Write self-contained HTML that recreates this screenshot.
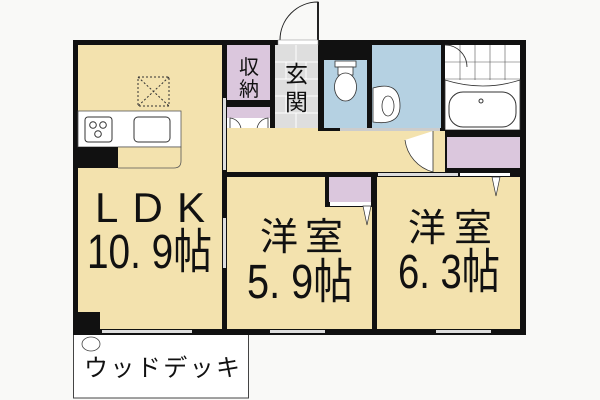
<!DOCTYPE html>
<html><head><meta charset="utf-8"><style>
html,body{margin:0;padding:0;background:#f9f9f7;}
svg{display:block;}
text{font-family:"Liberation Sans","Noto Sans CJK JP",sans-serif;fill:#111;}
</style></head><body>
<svg width="600" height="400" viewBox="0 0 600 400" xmlns="http://www.w3.org/2000/svg">
<rect width="600" height="400" fill="#f9f9f7"/>
<rect x="73.5" y="330" width="175" height="68" fill="#fff" stroke="#444" stroke-width="1"/>
<rect x="73" y="40" width="453" height="295" fill="#111"/>
<path d="M318 40 L318 2 A38 38 0 0 0 280 40" fill="none" stroke="#222" stroke-width="1"/>
<rect x="317" y="2" width="2" height="38" fill="#222"/>
<rect x="278" y="40" width="40" height="5" fill="#fff" stroke="#888" stroke-width=".5"/>
<rect x="78" y="45" width="144" height="284" fill="#f3e2ae"/>
<rect x="138" y="77" width="31" height="29" fill="none" stroke="#333" stroke-dasharray="2 2"/>
<path d="M138 77 L169 106 M169 77 L138 106" stroke="#333" stroke-dasharray="2 2"/>
<rect x="78" y="111" width="103" height="36" fill="#fff" stroke="#555" stroke-width=".8"/>
<rect x="85" y="117" width="27" height="25" rx="3" fill="#fff" stroke="#333"/>
<circle cx="93" cy="125" r="3.3" fill="none" stroke="#333"/><circle cx="103" cy="125" r="3.3" fill="none" stroke="#333"/><circle cx="98" cy="134" r="3.3" fill="none" stroke="#333"/>
<rect x="134" y="117" width="36" height="25" rx="4" fill="#fff" stroke="#333"/>
<path d="M118 147 L181 147 L181 161 Q181 168 174 168 L118 168" fill="#f3e2ae" stroke="#555" stroke-width=".8"/>
<rect x="78" y="147" width="40" height="21" fill="#111"/>
<rect x="73" y="312" width="27" height="18" fill="#111"/>
<rect x="227" y="45" width="43" height="55" fill="#dbc7dd"/>
<rect x="227" y="107" width="43" height="11" fill="#dbc7dd"/>
<rect x="227" y="118" width="43" height="10" fill="#fff"/>
<path d="M230 128 L230 118 A12 12 0 0 1 241 130 M268 128 L268 118 A12 12 0 0 0 257 130" fill="none" stroke="#333" stroke-width=".8"/>
<rect x="275" y="45" width="43" height="83" fill="#dedede"/>
<g stroke="#fff" stroke-width="1"><path d="M275 62 H318 M275 79 H318 M275 96 H318 M275 113 H318"/><path d="M296 45 V62 M286 62 V79 M306 62 V79 M296 79 V96 M286 96 V113 M306 96 V113 M296 113 V128"/></g>
<rect x="324" y="60" width="43" height="68" fill="#b5d1e2"/>
<rect x="335" y="61" width="21" height="6" fill="#fff" stroke="#333" stroke-width=".8"/>
<rect x="338" y="67" width="15" height="8" fill="#fff" stroke="#333" stroke-width=".8"/>
<ellipse cx="345.5" cy="87" rx="11" ry="14" fill="#fff" stroke="#333" stroke-width=".8"/>
<rect x="372" y="45" width="69" height="83" fill="#b5d1e2"/>
<path d="M373 88 Q400 80 400 106 Q400 126 373 122 Z" fill="#fff" stroke="#333" stroke-width=".8"/>
<ellipse cx="388" cy="106" rx="6" ry="10" fill="#fff" stroke="#333" stroke-width=".8"/>
<rect x="445" y="45" width="75" height="85" fill="#fff"/>
<g stroke="#555" stroke-width=".6"><path d="M445 62 H520 M445 79 H520 M460 45 V80 M475 45 V80 M490 45 V80 M505 45 V80"/></g>
<path d="M445 80 Q483 92 520 80 L520 130 L445 130 Z" fill="#fff" stroke="#333" stroke-width=".8"/>
<rect x="449" y="92" width="67" height="35" rx="14" fill="#fff" stroke="#333"/>
<circle cx="481" cy="101" r="2" fill="none" stroke="#333"/>
<path d="M445 45 A22 22 0 0 1 467 67" fill="none" stroke="#333" stroke-width=".8"/>
<rect x="227" y="128" width="218" height="44" fill="#f3e2ae"/>
<rect x="318" y="128" width="127" height="3" fill="#111"/>
<rect x="340" y="128" width="100" height="3" fill="#ccc"/>
<path d="M433 131 L433 172 A38 38 0 0 1 405 140" fill="#fff" stroke="#333" stroke-width=".8"/>
<rect x="445" y="130" width="81" height="42" fill="#111"/>
<rect x="447" y="137" width="73" height="31" fill="#dbc7dd"/>
<rect x="222" y="172" width="304" height="5" fill="#111"/>
<rect x="378" y="173" width="80" height="3" fill="#ddd"/>
<rect x="460" y="173" width="50" height="3" fill="#fff"/>
<rect x="227" y="177" width="145" height="152" fill="#f3e2ae"/>
<rect x="325" y="177" width="47" height="30" fill="#111"/>
<rect x="329" y="177" width="42" height="25" fill="#dbc7dd"/>
<rect x="330" y="202" width="41" height="4" fill="#fff"/>
<path d="M363 206 L371 206 L367 225 Z" fill="#fff" stroke="#333" stroke-width=".7"/>
<rect x="377" y="177" width="143" height="152" fill="#f3e2ae"/>
<path d="M492 177 L500 177 L496 196 Z" fill="#fff" stroke="#333" stroke-width=".7"/>
<rect x="223" y="98" width="3" height="72" fill="#ddd"/>
<rect x="223" y="218" width="3" height="50" fill="#ddd"/>
<rect x="102" y="330" width="90" height="3" fill="#ddd"/>
<rect x="270" y="330" width="55" height="3" fill="#ddd"/>
<rect x="436" y="330" width="55" height="3" fill="#ddd"/>
<ellipse cx="91" cy="344" rx="9" ry="7" fill="#fff" stroke="#444" stroke-width=".8"/>
<text x="239" y="74" font-size="20">収</text><text x="239" y="96" font-size="20">納</text>
<text x="285" y="82" font-size="23">玄</text><text x="285" y="110" font-size="23">関</text>
<text x="95" y="222" font-size="42" textLength="110" lengthAdjust="spacing">LDK</text>
<text x="87" y="268" font-size="48" textLength="125" lengthAdjust="spacingAndGlyphs">10. 9帖</text>
<text x="260" y="250" font-size="38" textLength="83" lengthAdjust="spacing">洋室</text>
<text x="247" y="298" font-size="48" textLength="106" lengthAdjust="spacingAndGlyphs">5. 9帖</text>
<text x="408" y="241" font-size="38" textLength="84" lengthAdjust="spacing">洋室</text>
<text x="398" y="288" font-size="48" textLength="102" lengthAdjust="spacingAndGlyphs">6. 3帖</text>
<text x="84" y="376" font-size="24" textLength="156" lengthAdjust="spacing">ウッドデッキ</text>
</svg>
</body></html>
